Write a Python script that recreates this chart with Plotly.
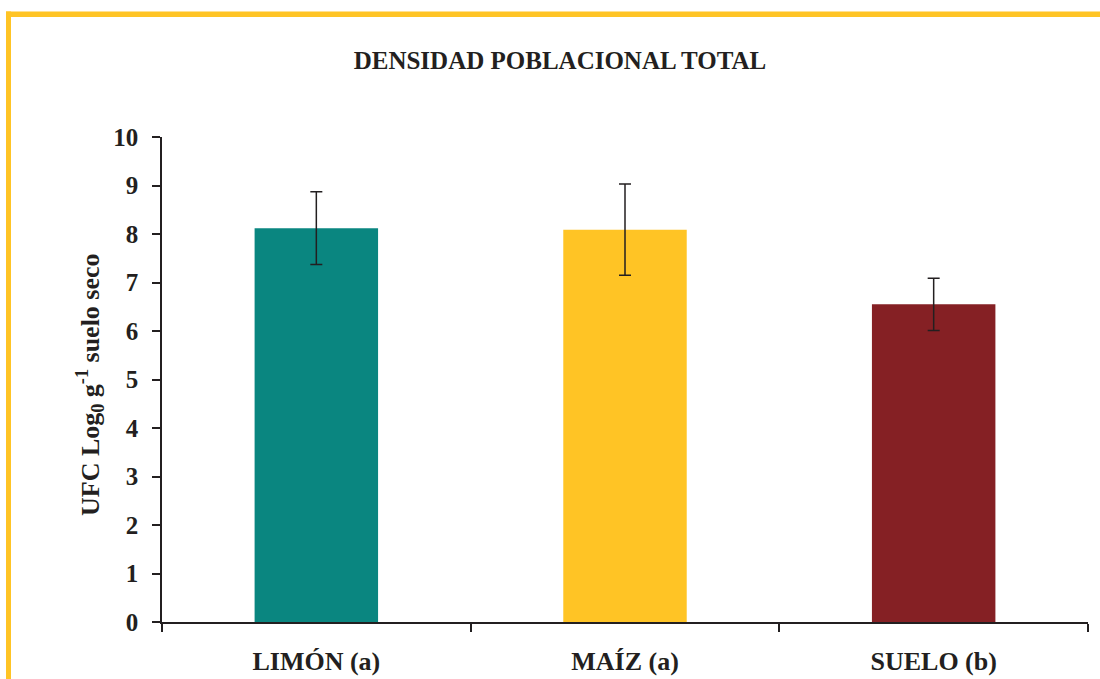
import plotly.graph_objects as go

# Densidad poblacional total por origen de la muestra
categorias = ["LIMÓN (a)", "MAÍZ (a)", "SUELO (b)"]
ufc_log = [8.12, 8.09, 6.55]
error_std = [0.75, 0.94, 0.54]
colores = ["#0A8680", "#FFC425", "#852024"]
y_ticks = [0, 1, 2, 3, 4, 5, 6, 7, 8, 9, 10]

W, H = 1100, 679
L, R, T, B = 162, 12, 137, 57
pw, ph = W - L - R, H - T - B

fuente = "Liberation Serif"
negro = "#231F20"
amarillo = "#FFC425"


def px_x(p):
    return (p - L) / pw


def px_y(p):
    return (H - B - p) / ph


fig = go.Figure(
    go.Bar(
        x=categorias,
        y=ufc_log,
        marker=dict(color=colores, line=dict(width=0)),
        width=0.4,
        error_y=dict(type="data", array=error_std, visible=True,
                     color=negro, thickness=1.5, width=6),
    )
)

fig.update_layout(
    width=W, height=H,
    margin=dict(l=L, r=R, t=T, b=B),
    paper_bgcolor="white", plot_bgcolor="white",
    showlegend=False,
    font=dict(family=fuente, color=negro),
    title=dict(text="DENSIDAD POBLACIONAL TOTAL",
               x=560 / W, xanchor="center", y=1 - 60 / H, yanchor="middle",
               font=dict(family=fuente, size=25, color=negro, weight="bold")),
    xaxis=dict(type="category", showline=True, linecolor=negro, linewidth=1.5,
               ticks="outside", ticklen=8, tickwidth=1.5, tickcolor=negro,
               tickson="boundaries", showgrid=False, automargin=False,
               tickfont=dict(family=fuente, size=26, color=negro, weight="bold"),
               ticklabelstandoff=15),
    yaxis=dict(range=[0, 10], tickvals=y_ticks, showline=True, linecolor=negro,
               linewidth=1.5, ticks="outside", ticklen=8, tickwidth=1.5,
               tickcolor=negro, showgrid=False, zeroline=False, automargin=False,
               tickfont=dict(family=fuente, size=25, color=negro, weight="bold"),
               ticklabelstandoff=9),
    bargap=0.6,
)

# Título del eje Y
fig.add_annotation(
    text="UFC Log<sub>0</sub> g<sup>-1</sup> suelo seco",
    xref="paper", yref="paper", x=px_x(90), y=px_y(385),
    xanchor="center", yanchor="middle", textangle=-90, showarrow=False,
    font=dict(family=fuente, size=26, color=negro, weight="bold"),
)

# Marco amarillo superior e izquierdo
fig.add_shape(type="rect", xref="paper", yref="paper",
              x0=px_x(6), x1=px_x(W + 5), y0=px_y(17), y1=px_y(11.5),
              fillcolor=amarillo, line=dict(width=0), layer="above")
fig.add_shape(type="rect", xref="paper", yref="paper",
              x0=px_x(6), x1=px_x(11), y0=px_y(H + 5), y1=px_y(11.5),
              fillcolor=amarillo, line=dict(width=0), layer="above")

fig.write_html("out.html")
